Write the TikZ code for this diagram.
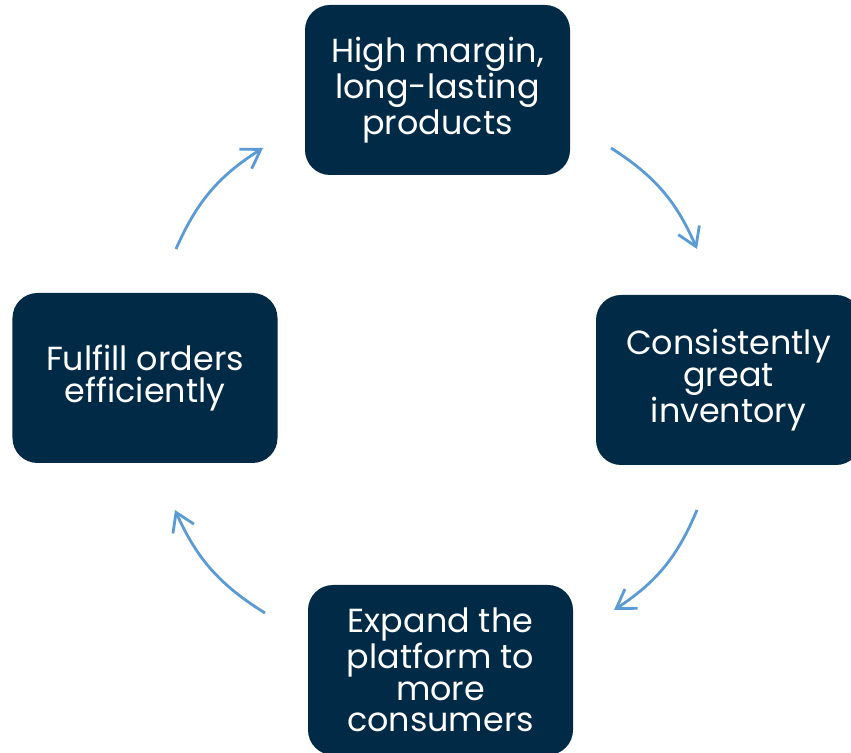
\documentclass[tikz,border=0pt]{standalone}
\usepackage{fontspec}
\setmainfont{Poppins}
\usepackage{tikz}
\usetikzlibrary{arrows.meta}
\definecolor{navy}{RGB}{1,42,71}
\definecolor{skyblue}{RGB}{91,155,213}

\begin{document}
\begin{tikzpicture}[
    stage/.style={rectangle, fill=navy, rounded corners=0.5cm, minimum width=5.3cm, minimum height=3.4cm, align=center, text=white, font=\fontsize{19}{18}\selectfont},
    cycarrow/.style={-{Straight Barb[length=3.6mm, width=4.6mm]}, line width=1.6pt, draw=skyblue, bend left=17}
]
    \useasboundingbox (0,0) rectangle (17.02,15.06);

    % the four stages, clockwise from the top
    \node[stage] (margin) at (8.75, 13.26) {High margin,\\long-lasting\\products};
    \node[stage] (inventory) at (14.57, 7.46) {Consistently\\great\\inventory};
    \node[stage] (platform) at (8.81, 1.66) {Expand the\\platform to\\more\\consumers};
    \node[stage] (fulfill) at (2.90, 7.50) {Fulfill orders\\efficiently};

    % arrow ends between the stages
    \coordinate (m-out) at (12.22, 12.10);
    \coordinate (i-in) at (13.94, 10.08);
    \coordinate (i-out) at (13.94, 4.86);
    \coordinate (p-in) at (12.28, 2.86);
    \coordinate (p-out) at (5.30, 2.80);
    \coordinate (f-in) at (3.50, 4.86);
    \coordinate (f-out) at (3.52, 10.08);
    \coordinate (m-in) at (5.26, 12.10);

    % Arrows
    \draw[cycarrow] (m-out) to (i-in);
    \draw[cycarrow] (i-out) to (p-in);
    \draw[cycarrow] (p-out) to (f-in);
    \draw[cycarrow] (f-out) to (m-in);
\end{tikzpicture}
\end{document}
